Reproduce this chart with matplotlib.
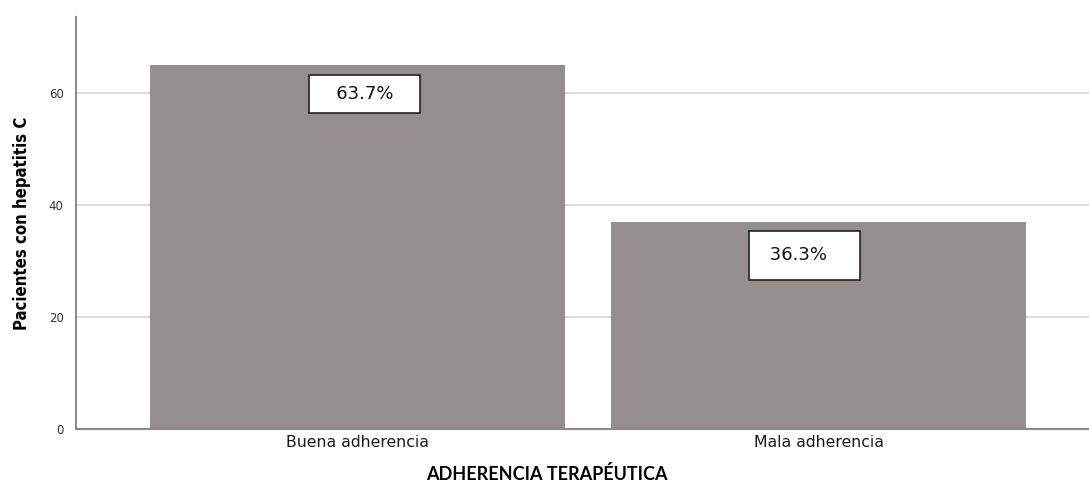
import matplotlib.pyplot as plt

# datos del grafico
categorias = ['Buena adherencia', 'Mala adherencia']
pacientes = [65, 37]
porcentajes = ['63.7%', '36.3%']

# estilo de cada caja de etiqueta (texto con espacios, desplazamiento en pt, pad)
etiquetas_txt = ['   {}   ', ' {}   ']
desplaz = [(5, -14), (-10, -17.6)]
pads = [0.55, 0.85]

fig = plt.figure(figsize=(10.89, 4.84), dpi=100)
ax = fig.add_axes([0.0698, 0.1136, 0.9302, 0.8513])

x = list(range(len(categorias)))
ax.bar(x, pacientes, width=0.9, color='#948f8e', zorder=2)

# etiquetas en cajas blancas
for xi, v, txt, fmt, off, pd in zip(x, pacientes, porcentajes, etiquetas_txt, desplaz, pads):
    ax.annotate(fmt.format(txt), xy=(xi, v), xytext=off, textcoords='offset points',
                ha='center', va='top', fontsize=13, color='#111111', zorder=4,
                bbox=dict(boxstyle='square,pad=%s' % pd, facecolor='white',
                          edgecolor='#222222', linewidth=1.2))

ax.set_xlim(-0.611, 1.587)
ax.set_ylim(0, 73.6)
ax.set_yticks([0, 20, 40, 60])
ax.set_xticks(x)
ax.set_xticklabels(categorias, fontsize=11.3, color='#1a1a1a')
ax.tick_params(axis='y', length=0, pad=9, labelsize=8.5, labelcolor='#333333')
ax.tick_params(axis='x', length=0, pad=4)

ax.yaxis.grid(True, color='#d6d6d6', linewidth=1.2, zorder=0)
ax.set_axisbelow(True)
for s in ['top', 'right']:
    ax.spines[s].set_visible(False)
for s in ['left', 'bottom']:
    ax.spines[s].set_color('#8a8a8a')
    ax.spines[s].set_linewidth(1.5)

ax.set_xlabel('ADHERENCIA TERAPÉUTICA', fontsize=13, fontweight='bold',
              family=['Lato', 'DejaVu Sans'])
ax.xaxis.set_label_coords(0.465, -0.088)
ax.set_ylabel('Pacientes con hepatitis C', fontsize=12, fontweight='bold',
              family=['Liberation Sans Narrow', 'DejaVu Sans'], fontstretch='condensed')
ax.yaxis.set_label_coords(-0.044, 0.5)

fig.savefig('out.png', dpi=100)
